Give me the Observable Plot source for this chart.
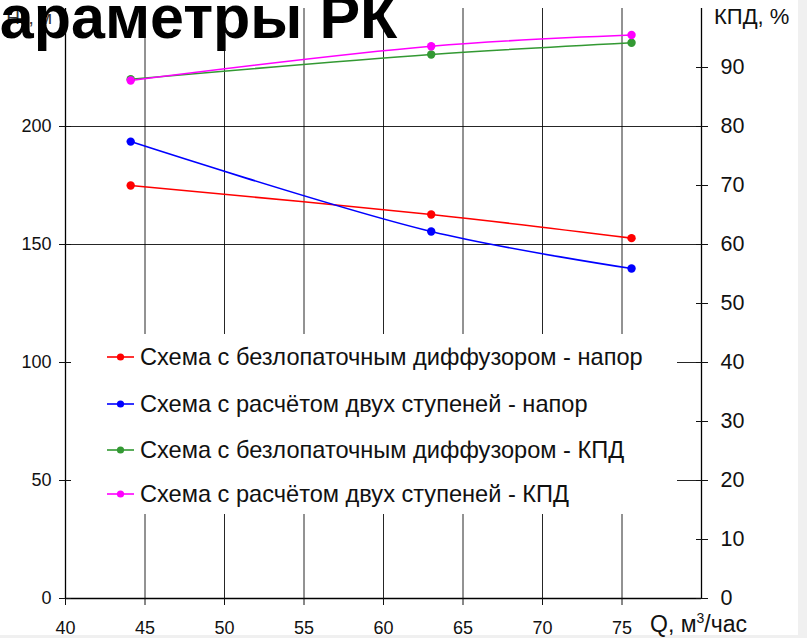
<!DOCTYPE html>
<html><head><meta charset="utf-8">
<script src="https://cdn.jsdelivr.net/npm/d3@7"></script>
<script src="https://cdn.jsdelivr.net/npm/@observablehq/plot@0.6"></script>
<style>
html,body{margin:0;padding:0;background:#f0f0f0;overflow:hidden;}
#wrap{position:relative;width:807px;height:638px;font-family:"Liberation Sans",Arial,sans-serif;color:#111;}
#paper{position:absolute;left:0;top:0;width:798px;height:635px;background:#fff;}
#chart{position:absolute;left:0;top:0;}
.lbl{position:absolute;white-space:nowrap;}
#legend{position:absolute;left:71px;top:334px;width:606px;height:180px;background:#fff;}
.row{position:absolute;left:36px;height:26px;line-height:26px;font-size:23.6px;white-space:nowrap;}
.row svg{vertical-align:middle;margin-right:6px;position:relative;top:-2px;}
#title{position:absolute;left:-44px;top:-13px;font-weight:bold;font-size:61px;line-height:61px;color:#000;white-space:nowrap;}
</style></head>
<body>
<div id="wrap">
  <div id="paper"></div>
  <div class="lbl" style="left:0;width:52px;text-align:right;top:8px;font-size:19px;line-height:19px;color:#333;">Нк, м</div>
  <div id="chart"></div>
  <div class="lbl" style="left:714px;top:6px;font-size:22px;line-height:22px;">КПД, %</div>
  <div class="lbl" style="left:650px;top:613px;font-size:23px;line-height:23px;">Q, м<sup style="font-size:14px;line-height:0;">3</sup>/час</div>
  <div id="legend"></div>
  <div id="title">Параметры РК</div>
</div>
<script>
const flow = [44.1, 63.0, 75.6];
const headDiffuser = [175, 162.7, 152.7];
const headTwoStage = [193.6, 155.5, 139.8];
const effDiffuser = [88.0, 92.2, 94.2];
const effTwoStage = [87.8, 93.6, 95.5];
const seriesNames = [
  "Схема с безлопаточным диффузором - напор",
  "Схема с расчётом двух ступеней - напор",
  "Схема с безлопаточным диффузором - КПД",
  "Схема с расчётом двух ступеней - КПД"
];
const seriesColors = ["#ff0000", "#0000ff", "#339933", "#ff00ff"];
const xTicks = [40, 45, 50, 55, 60, 65, 70, 75];
const headTicks = [0, 50, 100, 150, 200];
const effTicks = [0, 10, 20, 30, 40, 50, 60, 70, 80, 90];
const headMax = 250, effMax = 100, k = headMax / effMax;

const seriesValues = [
  headDiffuser, headTwoStage,
  effDiffuser.map(v => v * k), effTwoStage.map(v => v * k)
];
const rows = [];
seriesNames.forEach((name, i) => {
  flow.forEach((q, j) => rows.push({q, y: seriesValues[i][j], series: name}));
});

const gridStyle = {stroke: "#000", strokeWidth: 1, strokeOpacity: 0.85};
const chart = Plot.plot({
  width: 807, height: 638,
  marginLeft: 65, marginRight: 106, marginTop: 8, marginBottom: 40,
  style: {background: "transparent", fontFamily: "Liberation Sans, Arial, sans-serif", fontSize: "18px", color: "#111"},
  x: {domain: [40, 80], label: null},
  y: {domain: [0, headMax], label: null},
  color: {domain: seriesNames, range: seriesColors},
  marks: [
    Plot.ruleX(xTicks.filter(v => v > 40), gridStyle),
    Plot.ruleY(headTicks.filter(v => v > 0), gridStyle),
    Plot.ruleX([40, 80], {stroke: "#000", strokeWidth: 1.3}),
    Plot.ruleY([0], {stroke: "#000", strokeWidth: 1.3}),
    Plot.axisY({anchor: "left", ticks: headTicks, tickSize: 12, dx: 6, tickFormat: () => "", label: null}),
    Plot.axisY({anchor: "left", ticks: headTicks, tickSize: 0, tickPadding: 14, fontSize: 18, label: null}),
    Plot.axisY({anchor: "right", ticks: effTicks.map(v => v * k), tickSize: 12, dx: -6, tickFormat: () => "", label: null}),
    Plot.axisY({anchor: "right", ticks: effTicks.map(v => v * k), tickSize: 0, tickPadding: 19, fontSize: 21.5, tickFormat: d => Math.round(d / k), label: null}),
    Plot.axisX({ticks: xTicks, tickSize: 7, tickPadding: 16, fontSize: 18, label: null}),
    Plot.line(rows, {x: "q", y: "y", z: "series", stroke: "series", curve: "catmull-rom", strokeWidth: 1.6}),
    Plot.dot(rows, {x: "q", y: "y", fill: "series", r: 4.2})
  ]
});
document.getElementById("chart").appendChild(chart);

const legend = document.getElementById("legend");
const rowCenters = [23, 70, 116, 160];
seriesNames.forEach((name, i) => {
  const row = document.createElement("div");
  row.className = "row";
  row.style.top = (rowCenters[i] - 13) + "px";
  row.innerHTML = `<svg width="27" height="10"><line x1="0" y1="5" x2="27" y2="5" stroke="${seriesColors[i]}" stroke-width="1.6"/><circle cx="13.5" cy="5" r="3.6" fill="${seriesColors[i]}"/></svg>${name}`;
  legend.appendChild(row);
});
</script>
</body></html>
